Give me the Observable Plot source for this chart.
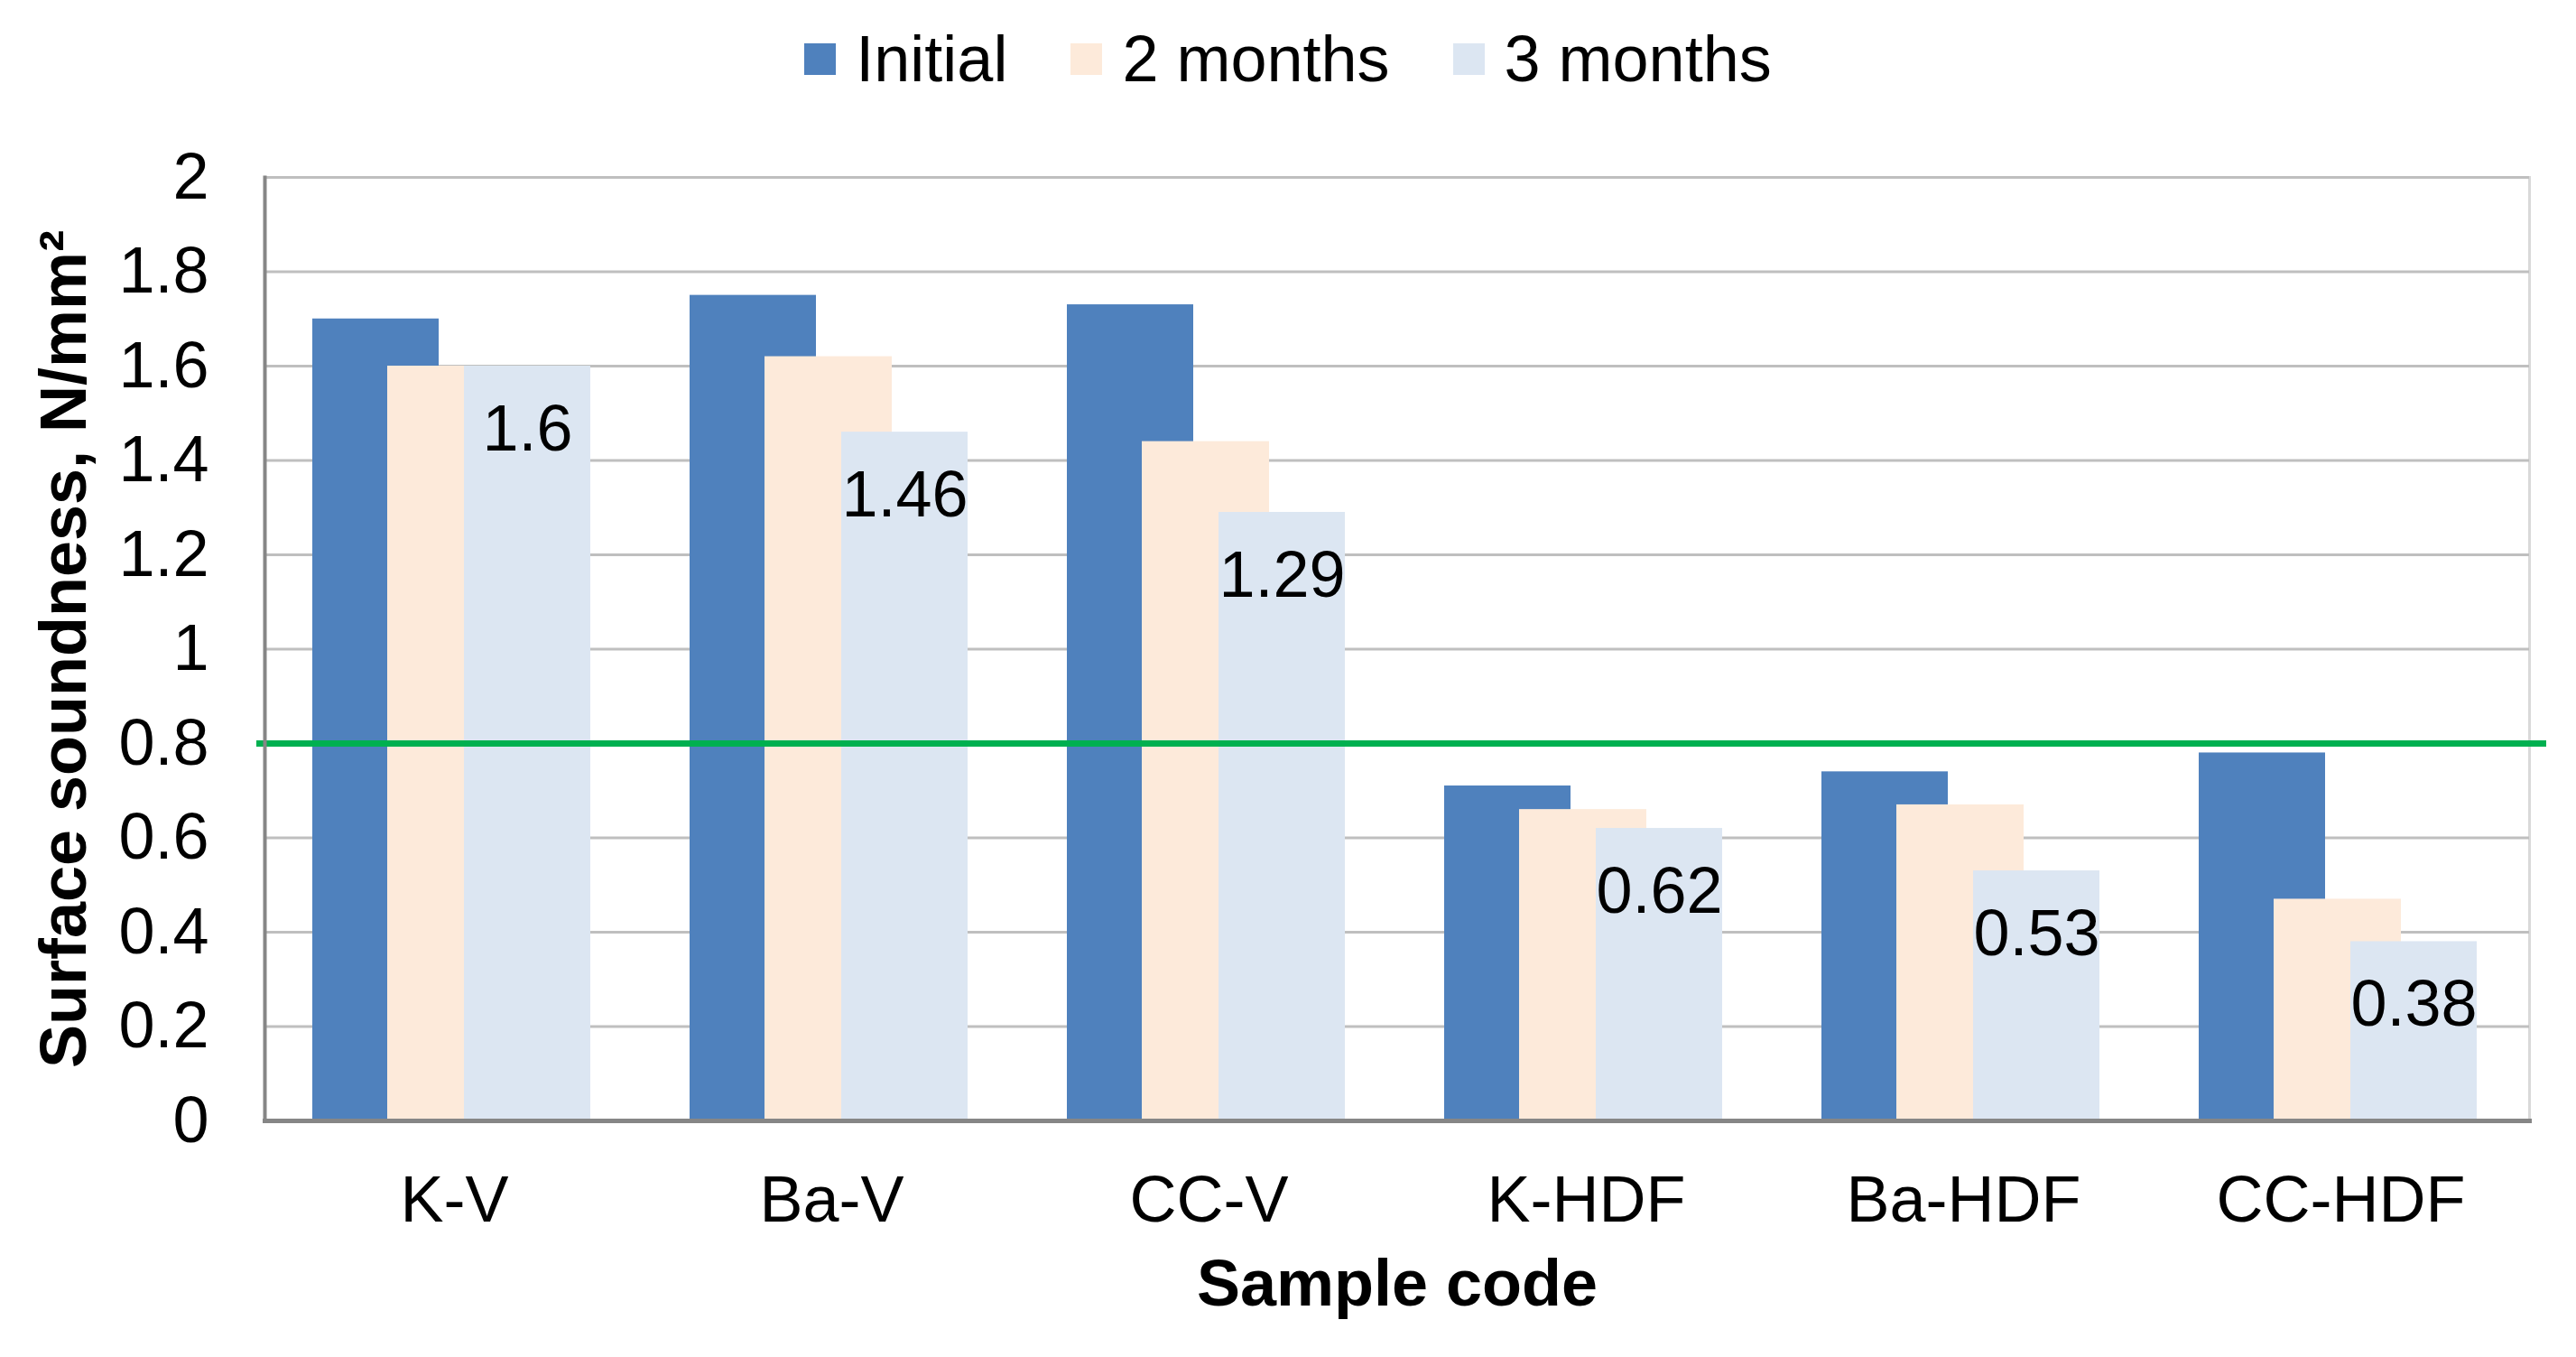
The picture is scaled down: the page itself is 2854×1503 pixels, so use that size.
<!DOCTYPE html>
<html><head><meta charset="utf-8">
<script src="https://cdn.jsdelivr.net/npm/d3@7"></script>
<script src="https://cdn.jsdelivr.net/npm/@observablehq/plot@0.6"></script>
<style>
html,body{margin:0;padding:0;background:#fff;}
body{width:2854px;height:1503px;overflow:hidden;font-family:"Liberation Sans",Arial,sans-serif;}
#legend{height:130px;display:flex;justify-content:center;align-items:center;font-size:72px;color:#000;}
.item{display:flex;align-items:center;margin:0 35px;white-space:nowrap;}
.sw{width:35px;height:35px;margin-right:22px;}
#chart svg{display:block;}
</style></head><body>
<div id="legend"></div>
<div id="chart"></div>
<script>
const categories = ["K-V", "Ba-V", "CC-V", "K-HDF", "Ba-HDF", "CC-HDF"];
const seriesNames = ["Initial", "2 months", "3 months"];
const initialValues = [1.70, 1.75, 1.73, 0.71, 0.74, 0.78];
const twoMonthValues = [1.60, 1.62, 1.44, 0.66, 0.67, 0.47];
const threeMonthValues = [1.60, 1.46, 1.29, 0.62, 0.53, 0.38];
const threeMonthLabels = ["1.6", "1.46", "1.29", "0.62", "0.53", "0.38"];
const yTicks = [0, 0.2, 0.4, 0.6, 0.8, 1, 1.2, 1.4, 1.6, 1.8, 2];
const yTickLabels = ["0", "0.2", "0.4", "0.6", "0.8", "1", "1.2", "1.4", "1.6", "1.8", "2"];
const thresholdValue = [0.8];
const xTitle = "Sample code";
const yTitle = "Surface soundness, N/mm²";
const colors = ["#4F81BD", "#FDEADA", "#DCE6F2"];

const seriesValues = [initialValues, twoMonthValues, threeMonthValues];
const rows = seriesNames.map((s, k) => categories.map((c, i) => ({category: c, series: s, value: seriesValues[k][i], label: k === 2 ? threeMonthLabels[i] : null})));

// legend
const legend = document.getElementById("legend");
seriesNames.forEach((s, k) => {
  const it = document.createElement("div"); it.className = "item";
  const sw = document.createElement("div"); sw.className = "sw"; sw.style.background = colors[k];
  const tx = document.createElement("span"); tx.textContent = s;
  it.appendChild(sw); it.appendChild(tx); legend.appendChild(it);
});

const insets = [[52, 226], [135, 142], [220, 58]];
const font = "'Liberation Sans', Arial, sans-serif";

const chart = Plot.plot({
  width: 2854,
  height: 1373,
  marginTop: 66,
  marginLeft: 293,
  marginRight: 52,
  marginBottom: 262,
  style: {fontFamily: font, fontSize: "72px", color: "#000", background: "#fff"},
  x: {type: "band", domain: categories, padding: 0, label: null},
  y: {domain: [0, 2], label: null},
  marks: [
    Plot.frame({stroke: "#D9D9D9", strokeWidth: 3}),
    Plot.gridY(yTicks, {stroke: "#BFBFBF", strokeWidth: 3, strokeOpacity: 1}),
    ...rows.map((r, k) => Plot.barY(r, {x: "category", y: "value", fill: colors[k], insetLeft: insets[k][0], insetRight: insets[k][1]})),
    Plot.ruleY(thresholdValue, {stroke: "#00B050", strokeWidth: 7, insetLeft: -9, insetRight: -19}),
    Plot.frame({anchor: "left", stroke: "#868686", strokeWidth: 4}),
    Plot.frame({anchor: "bottom", stroke: "#868686", strokeWidth: 5}),
    Plot.axisY(yTicks, {tickFormat: (d, i) => yTickLabels[i], tickSize: 0, tickPadding: 62, fontSize: 72, label: null}),
    Plot.axisX({tickSize: 0, tickPadding: 60, fontSize: 72, label: null}),
    Plot.text(rows[2], {x: "category", y: "value", text: "label", dx: 81, dy: 70, lineAnchor: "middle", fill: "#000", fontSize: 72}),
    Plot.text([xTitle], {frameAnchor: "bottom", dy: 204, lineAnchor: "bottom", textAnchor: "middle", fontWeight: "bold", fontSize: 72, fill: "#000"}),
    Plot.text([yTitle], {frameAnchor: "left", dx: -222, rotate: -90, lineAnchor: "middle", textAnchor: "middle", fontWeight: "bold", fontSize: 72, fill: "#000"})
  ]
});
document.getElementById("chart").appendChild(chart);
</script>
</body></html>
